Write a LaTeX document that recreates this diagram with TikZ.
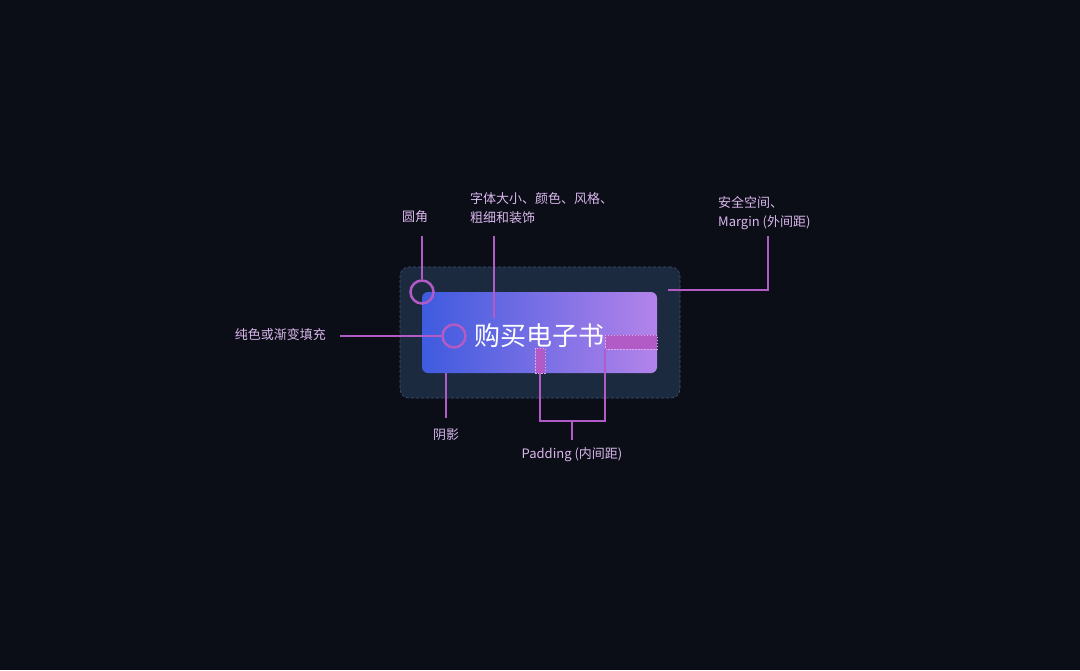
\documentclass[tikz,border=0pt]{standalone}
\usepackage{fontspec}
\setmainfont{Noto Sans CJK SC}
\begin{document}
\begin{tikzpicture}[x=1pt,y=-1pt,
  lbl/.style={text=labeltxt,font=\fontsize{13}{19}\selectfont,inner sep=0pt},
  lead/.style={draw=leadc,line width=2.5pt},
  ring/.style={circle,draw=leadc,line width=2.5pt,minimum size=23pt,inner sep=0pt},
  padbar/.style={fill=leadc,draw=padedge,dashed,dash pattern=on 1.5pt off 1.5pt,line width=0.5pt}]
\definecolor{bg}{HTML}{0B0D17}
\definecolor{marginfill}{HTML}{1C2A3F}
\definecolor{marginedge}{HTML}{3F5470}
\definecolor{leadc}{HTML}{B25BC6}
\definecolor{padedge}{HTML}{E0A8F0}
\definecolor{labeltxt}{HTML}{D9B8EC}
\definecolor{gradL}{HTML}{3E5BDF}
\definecolor{gradR}{HTML}{B383EA}
\useasboundingbox (0,0) rectangle (1080,670);
\fill[bg] (0,0) rectangle (1080,670);
% margin area
\node[draw=marginedge,fill=marginfill,dashed,dash pattern=on 3pt off 2pt,line width=0.6pt,rounded corners=9pt,minimum width=280pt,minimum height=131pt,inner sep=0pt] (margin) at (540,332.5) {};
% button
\shade[left color=gradL,right color=gradR,rounded corners=6pt] (422,292) rectangle (657,373);
\node[inner sep=0pt,minimum width=235pt,minimum height=81pt] (button) at (539.5,332.5) {};
\node[text=white,font=\fontsize{26}{30}\selectfont,inner sep=0pt] (title) at (539.5,336) {购买电子书};
% padding highlights
\node[padbar,minimum width=52pt,minimum height=14pt,inner sep=0pt] (padh) at (631,342) {};
\node[padbar,minimum width=10pt,minimum height=25pt,inner sep=0pt] (padv) at (540,360.5) {};
% labels
\node[lbl] (lcorner) at (415,217) {圆角};
\node[lbl,align=left,anchor=north west] (lfont) at (470,192) {字体大小、颜色、风格、\\粗细和装饰};
\node[lbl,align=left,anchor=north west] (lmargin) at (718,196) {安全空间、\\Margin (外间距)};
\node[lbl,anchor=east] (lfill) at (326,335) {纯色或渐变填充};
\node[lbl] (lshadow) at (446,435) {阴影};
\node[lbl] (lpad) at (572,455) {Padding (内间距)};
% rings
\node[ring] (rcorner) at (422,292) {};
\node[ring] (rfill) at (454,336) {};
% leaders
\coordinate (cA) at (422,236);
\draw[lead] (cA) -- (rcorner.north);
\coordinate (cB) at (340,336);
\draw[lead] (cB) -- (rfill.west);
\coordinate (cF1) at (494,236);
\coordinate (cF2) at (494,318);
\draw[lead] (cF1) -- (cF2);
\coordinate (cM1) at (668,290);
\coordinate (cM2) at (768,290);
\coordinate (cM3) at (768,236);
\draw[lead] (cM1) -- (cM2) -- (cM3);
\coordinate (cS1) at (446,373);
\coordinate (cS2) at (446,418);
\draw[lead] (cS1) -- (cS2);
\coordinate (cP1) at (540,421);
\coordinate (cP2) at (605,421);
\coordinate (cP3) at (572,421);
\coordinate (cP4) at (572,440);
\draw[lead] (padv.south) -- (cP1) -- (cP2) -- (padh.south west -| cP2);
\draw[lead] (cP3) -- (cP4);
\end{tikzpicture}
\end{document}
